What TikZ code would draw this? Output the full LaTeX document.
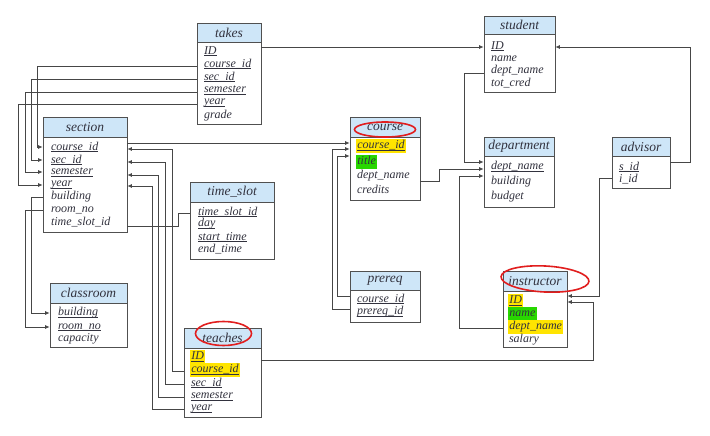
\documentclass[tikz,border=0pt]{standalone}
\usepackage{fontspec}
\setmainfont{Liberation Serif}
\usetikzlibrary{arrows.meta,calc}
\definecolor{hdrc}{RGB}{206,230,248}
\definecolor{bordc}{RGB}{80,80,80}
\definecolor{txtc}{RGB}{50,50,62}
\definecolor{linec}{RGB}{70,70,70}
\definecolor{hlyc}{RGB}{255,228,0}
\definecolor{hlgc}{RGB}{40,215,0}
\definecolor{ovalc}{RGB}{225,30,30}
\newcommand\hfnt{\fontsize{13.5}{15}\selectfont\itshape}
\newcommand\bfnt{\fontsize{12}{13}\selectfont\itshape}
\newcommand\ul[1]{\setbox0\hbox{#1}\rlap{\rule[-1.6pt]{\wd0}{0.55pt}}\box0}
\tikzset{
  hdr/.style={draw=bordc, fill=hdrc, line width=0.8pt, inner sep=0pt, font=\hfnt, text=txtc},
  bodyb/.style={draw=bordc, fill=white, line width=0.8pt, inner sep=0pt},
  fld/.style={anchor=west, inner sep=0.8pt, font=\bfnt, text=txtc},
  hly/.style={fld, fill=hlyc, text height=8.5pt, text depth=3pt, inner xsep=1.2pt},
  hlg/.style={fld, fill=hlgc, text height=8.5pt, text depth=3pt, inner xsep=1.2pt},
  conn/.style={draw=linec, line width=0.7pt},
  arr/.style={-{Latex[length=4.5pt,width=4pt]}},
  oval/.style={draw=ovalc, line width=1.6pt},
}
% name, left, right, header top, header bottom, body bottom, title
\newcommand\ertab[7]{%
  \node[bodyb, minimum width={(#3-#2)*1pt}, minimum height={(#6-#5)*1pt}] (#1-b) at ({(#2+#3)/2},{(#5+#6)/2}) {};
  \node[hdr, minimum width={(#3-#2)*1pt}, minimum height={(#5-#4)*1pt}] (#1) at ({(#2+#3)/2},{(#4+#5)/2}) {#7};
}
\begin{document}
\begin{tikzpicture}[x=1pt,y=-1pt]
\useasboundingbox[fill=white] (0,0) rectangle (710,436);

% tables
\ertab{takes}{197}{261}{23}{42}{124}{takes}
\ertab{section}{43}{127}{117}{137}{232}{section}
\ertab{student}{484}{555}{16}{34}{92}{student}
\ertab{course}{350}{420}{117}{137}{200}{course}
\ertab{department}{484}{554}{137}{156}{207}{department}
\ertab{advisor}{612}{670}{137}{156}{188}{advisor}
\ertab{timeslot}{190}{274}{182}{202}{259}{time\_slot}
\ertab{prereq}{350}{420}{271}{290}{322}{prereq}
\ertab{instructor}{503}{567}{271}{291}{347}{instructor}
\ertab{classroom}{50}{127}{283}{303}{347}{classroom}
\ertab{teaches}{184}{261}{328}{348}{417}{teaches}

% fields: takes
\node[fld] (takes-id)   at (203,51)  {\ul{ID}};
\node[fld] (takes-cid)  at (203,64)  {\ul{course\_id}};
\node[fld] (takes-sid)  at (203,77)  {\ul{sec\_id}};
\node[fld] (takes-sem)  at (203,90)  {\ul{semester}};
\node[fld] (takes-yr)   at (203,103) {\ul{year}};
\node[fld] (takes-gr)   at (203,116) {grade};
% section
\node[fld] (section-cid) at (50,147) {\ul{course\_id}};
\node[fld] (section-sid) at (50,160) {\ul{sec\_id}};
\node[fld] (section-sem) at (50,172) {\ul{semester}};
\node[fld] (section-yr)  at (50,185) {\ul{year}};
\node[fld] (section-bld) at (50,197) {building};
\node[fld] (section-rm)  at (50,210) {room\_no};
\node[fld] (section-ts)  at (50,222) {time\_slot\_id};
% student
\node[fld] (student-id)  at (490,46) {\ul{ID}};
\node[fld] (student-nm)  at (490,59) {name};
\node[fld] (student-dn)  at (490,71) {dept\_name};
\node[fld] (student-tc)  at (490,83) {tot\_cred};
% course
\node[hly] (course-cid)  at (356,146) {\ul{course\_id}};
\node[hlg] (course-tt)   at (356,162) {title};
\node[fld] (course-dn)   at (356,176) {dept\_name};
\node[fld] (course-cr)   at (356,189) {credits};
% department
\node[fld] (department-dn) at (490,167) {\ul{dept\_name}};
\node[fld] (department-bl) at (490,182) {building};
\node[fld] (department-bu) at (490,197) {budget};
% advisor
\node[fld] (advisor-sid) at (618,167) {\ul{s\_id}};
\node[fld] (advisor-iid) at (618,179) {i\_id};
% time_slot
\node[fld] (timeslot-id)  at (197,212) {\ul{time\_slot\_id}};
\node[fld] (timeslot-day) at (197,224) {\ul{day}};
\node[fld] (timeslot-st)  at (197,237) {\ul{start\_time}};
\node[fld] (timeslot-et)  at (197,249) {end\_time};
% prereq
\node[fld] (prereq-cid) at (356,299) {\ul{course\_id}};
\node[fld] (prereq-pid) at (356,312) {\ul{prereq\_id}};
% instructor
\node[hly] (instructor-id) at (508,301) {\ul{ID}};
\node[hlg] (instructor-nm) at (508,314) {name};
\node[hly] (instructor-dn) at (508,327) {dept\_name};
\node[fld] (instructor-sa) at (508,340) {salary};
% classroom
\node[fld] (classroom-bld) at (57,313) {\ul{building}};
\node[fld] (classroom-rm)  at (57,327) {\ul{room\_no}};
\node[fld] (classroom-cap) at (57,339) {capacity};
% teaches
\node[hly] (teaches-id)  at (190,357) {\ul{ID}};
\node[hly] (teaches-cid) at (190,370) {\ul{course\_id}};
\node[fld] (teaches-sid) at (190,383) {\ul{sec\_id}};
\node[fld] (teaches-sem) at (190,396) {\ul{semester}};
\node[fld] (teaches-yr)  at (190,409) {\ul{year}};

% connectors
% takes -> student
\draw[conn,arr] (takes-b.east |- 0,47) -- (student-b.west |- 0,47);
% takes -> section
\draw[conn,arr] (takes-b.west |- 0,66) -| (37,147) -- (section-b.west |- 0,147);
\draw[conn,arr] (takes-b.west |- 0,79) -| (31,160) -- (section-b.west |- 0,160);
\draw[conn,arr] (takes-b.west |- 0,92) -| (25,172) -- (section-b.west |- 0,172);
\draw[conn,arr] (takes-b.west |- 0,104) -| (18,185) -- (section-b.west |- 0,185);
% section -> classroom
\draw[conn,arr] (section-b.west |- 0,197) -| (31,313) -- (classroom-b.west |- 0,313);
\draw[conn,arr] (section-b.west |- 0,210) -| (25,327) -- (classroom-b.west |- 0,327);
% section -> time_slot
\draw[conn] (section-b.east |- 0,226) -| (178,213) -- (timeslot-b.west |- 0,213);
% section -> course
\draw[conn,arr] (section-b.east |- 0,143) -- (course-b.west |- 0,143);
% teaches -> section
\draw[conn,arr] (teaches-b.west |- 0,371) -| (172,149) -- (section-b.east |- 0,149);
\draw[conn,arr] (teaches-b.west |- 0,384) -| (165,162) -- (section-b.east |- 0,162);
\draw[conn,arr] (teaches-b.west |- 0,397) -| (158,175) -- (section-b.east |- 0,175);
\draw[conn,arr] (teaches-b.west |- 0,409) -| (152,186) -- (section-b.east |- 0,186);
% teaches -> instructor
\draw[conn,arr] (teaches-b.east |- 0,360) -| (593,302) -- (instructor-b.east |- 0,302);
% advisor -> instructor
\draw[conn,arr] (advisor-b.west |- 0,178) -| (599,296) -- (instructor-b.east |- 0,296);
% advisor -> student
\draw[conn,arr] (advisor-b.east |- 0,162) -| (690,47) -- (student-b.east |- 0,47);
% student -> department
\draw[conn,arr] (student-b.west |- 0,73) -| (464,162) -- (department-b.west |- 0,162);
% course -> department
\draw[conn,arr] (course-b.east |- 0,181) -| (439,169) -- (department-b.west |- 0,169);
% instructor -> department
\draw[conn,arr] (instructor-b.west |- 0,328) -| (459,176) -- (department-b.west |- 0,176);
% prereq -> course
\draw[conn,arr] (prereq-b.west |- 0,296) -| (337,156) -- (course-b.west |- 0,156);
\draw[conn,arr] (prereq-b.west |- 0,309) -| (332,149) -- (course-b.west |- 0,149);

% red ovals
\draw[oval] (385,129.5) ellipse (30.5 and 7.5);
\draw[oval, rotate around={-3:(545,279)}] (545,279) ellipse (44 and 13);
\draw[oval] (223.5,333.5) ellipse (28 and 12);
\end{tikzpicture}
\end{document}
